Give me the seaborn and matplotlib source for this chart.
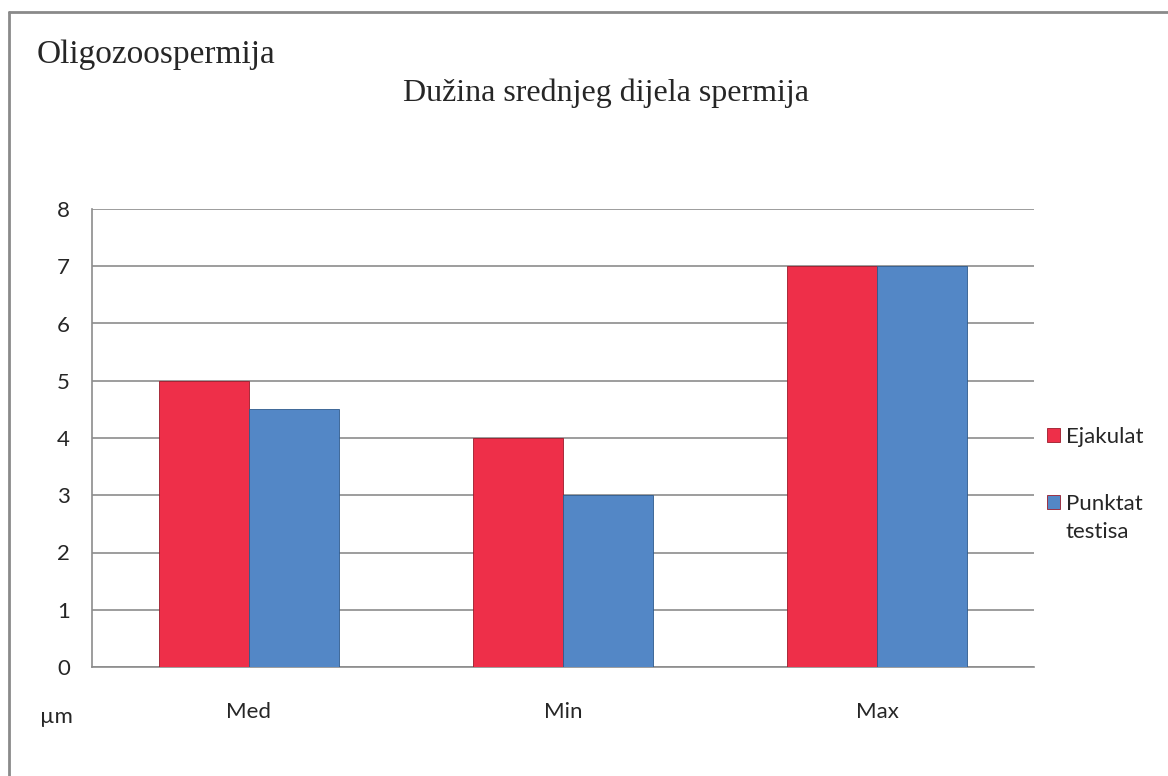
import matplotlib.pyplot as plt
import pandas as pd
import seaborn as sns

categories = ['Med', 'Min', 'Max']
ejakulat = [5, 4, 7]
punktat = [4.5, 3, 7]
series_names = ['Ejakulat', 'Punktat']

df = pd.DataFrame({
    'kategorija': categories * 2,
    'vrijednost': ejakulat + punktat,
    'serija': [series_names[0]] * 3 + [series_names[1]] * 3,
})

sns.set_style('white')
plt.rcParams['font.family'] = ['Lato', 'DejaVu Sans']

fig = plt.figure(figsize=(11.68, 7.76), dpi=100)
ax = fig.add_axes([92 / 1168, 1 - 667 / 776, (1034 - 92) / 1168, (667 - 209) / 776])

palette = {series_names[0]: '#EE2F49', series_names[1]: '#5387C6'}
sns.barplot(data=df, x='kategorija', y='vrijednost', hue='serija', palette=palette,
            width=0.573, gap=0, saturation=1, ax=ax, zorder=3,
            edgecolor='#9a1a2a', linewidth=0.6)
for bar in ax.patches[3:6]:
    bar.set_edgecolor('#2f5a8c')

ax.set_xlim(-0.5, 2.5)
ax.set_ylim(0, 8)
ax.set_yticks(range(0, 9))
ax.yaxis.grid(True, color='#8c8c8c', linewidth=1.2, zorder=0)
ax.set_axisbelow(True)

for side in ['top', 'right']:
    ax.spines[side].set_visible(False)
for side in ['left', 'bottom']:
    ax.spines[side].set_color('#8c8c8c')
    ax.spines[side].set_linewidth(1.2)

# category labels centred, boundary tick marks between groups
ax.set_xticks([0, 1, 2])
ax.set_xticklabels(categories, fontsize=16)
ax.tick_params(axis='x', length=0, pad=25)
ax.set_xticks([-0.5, 0.5, 1.5, 2.5], minor=True)
ax.tick_params(axis='x', which='minor', length=7, color='#8c8c8c', width=1.2, direction='out')
ax.tick_params(axis='y', length=7, color='#8c8c8c', width=1.2, direction='out', labelsize=16, pad=9)
ax.set_xlabel('')
ax.set_ylabel('')

fig.text(40 / 1168, 1 - 717 / 776, 'µm', fontsize=16, va='center', ha='left')
fig.text(37 / 1168, 1 - 55 / 776, 'Oligozoospermija', fontsize=24,
         family='Liberation Serif', va='center', ha='left')
fig.text(606 / 1168, 1 - 93 / 776, 'Dužina srednjeg dijela spermija', fontsize=23,
         family='Liberation Serif', va='center', ha='center')

ax.legend(loc='upper left', bbox_to_anchor=(1027 / 1168, 1 - 407 / 776),
          bbox_transform=fig.transFigure, frameon=False, fontsize=16,
          handlelength=0.6, handleheight=0.6, handletextpad=0.25, labelspacing=2.1)
fig.text(1066 / 1168, 1 - 532 / 776, 'testisa', fontsize=16, va='center', ha='left')

# outer chart frame (left and top edges visible)
fig.add_artist(plt.Line2D([9 / 1168, 9 / 1168], [0, 1 - 12 / 776], color='#8a8a8a', linewidth=2,
                          transform=fig.transFigure))
fig.add_artist(plt.Line2D([9 / 1168, 1], [1 - 12 / 776, 1 - 12 / 776], color='#8a8a8a', linewidth=2,
                          transform=fig.transFigure))

fig.savefig('out.png', dpi=100)
